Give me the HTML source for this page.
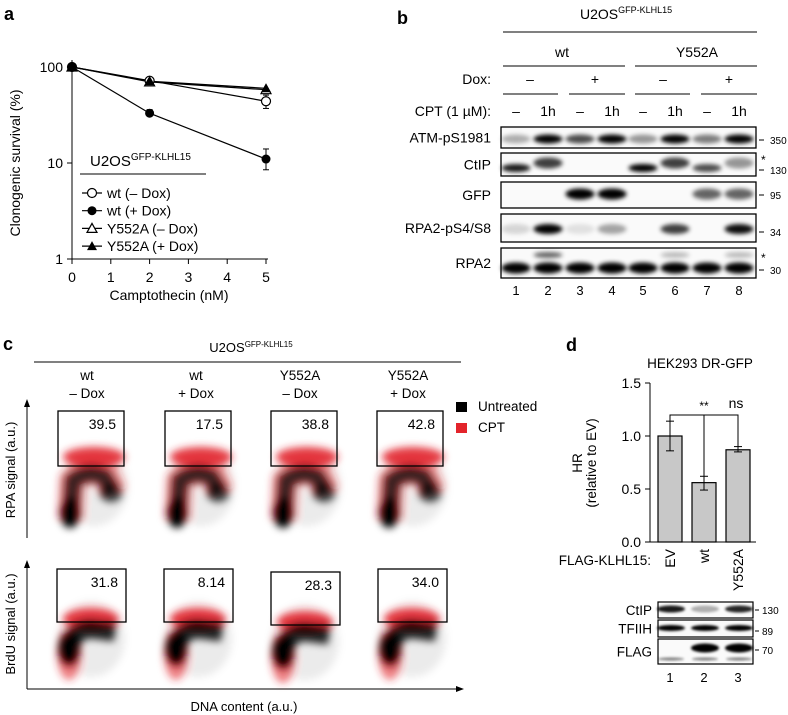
<!DOCTYPE html>
<html><head><meta charset="utf-8">
<style>
html,body{margin:0;padding:0;background:#fff;}
svg{display:block;font-family:"Liberation Sans",Arial,sans-serif;}
</style></head>
<body>
<svg id="fig" width="788" height="715" viewBox="0 0 788 715" xmlns="http://www.w3.org/2000/svg">
<defs>
<filter id="blur2" x="-50%" y="-50%" width="200%" height="200%"><feGaussianBlur stdDeviation="2"/></filter>
<filter id="blur3" x="-50%" y="-50%" width="200%" height="200%"><feGaussianBlur stdDeviation="4"/></filter>
<filter id="blur1" x="-50%" y="-50%" width="200%" height="200%"><feGaussianBlur stdDeviation="1.2"/></filter>
</defs>

<!-- Panel a -->
<g>
<text x="4" y="20" font-size="18" font-weight="bold">a</text>
<g id="a-plot"></g>
<text x="169" y="300" font-size="14" text-anchor="middle">Camptothecin (nM)</text>
<text transform="translate(20,163) rotate(-90)" font-size="14" text-anchor="middle">Clonogenic survival (%)</text>
<text x="90" y="166" font-size="15">U2OS<tspan font-size="10" dy="-6">GFP-KLHL15</tspan></text>
<line x1="80" y1="174" x2="206" y2="174" stroke="#000" stroke-width="1"/>
<g id="a-legend"></g>
</g>

<!-- Panel b -->
<g font-size="14">
<text x="397" y="24" font-size="18" font-weight="bold">b</text>
<text x="580" y="19" font-size="14">U2OS<tspan font-size="9" dy="-6">GFP-KLHL15</tspan></text>
<line x1="503" y1="32" x2="757" y2="32" stroke="#000"/>
<text x="562" y="57" text-anchor="middle">wt</text>
<text x="697" y="57" text-anchor="middle">Y552A</text>
<line x1="503" y1="66" x2="625" y2="66" stroke="#000"/><line x1="635" y1="66" x2="757" y2="66" stroke="#000"/>
<text x="491" y="84" text-anchor="end">Dox:</text>
<g id="b-dox"></g>
<text x="491" y="116" text-anchor="end">CPT (1 µM):</text>
<g id="b-cpt"></g>
<g id="b-blots"></g>
</g>

<!-- Panel c -->
<g>
<text x="3" y="350" font-size="18" font-weight="bold">c</text>
<text x="251" y="352" font-size="13" text-anchor="middle">U2OS<tspan font-size="8" dy="-5">GFP-KLHL15</tspan></text>
<line x1="34" y1="362" x2="461" y2="362" stroke="#000"/>
<g id="c-cols"></g>
<rect x="456" y="402" width="11" height="10" fill="#000"/>
<text x="478" y="411" font-size="13.5">Untreated</text>
<rect x="456" y="423" width="11" height="10" fill="#e3242b"/>
<text x="478" y="432" font-size="13.5">CPT</text>
<line x1="27" y1="538" x2="27" y2="405" stroke="#000"/><path d="M24,407 L27,399 L30,407Z"/>
<line x1="27" y1="689" x2="27" y2="566" stroke="#000"/><path d="M24,568 L27,560 L30,568Z"/>
<line x1="27" y1="689" x2="458" y2="689" stroke="#000"/><path d="M456,686 L464,689 L456,692Z"/>
<text transform="translate(15,470) rotate(-90)" font-size="13" text-anchor="middle">RPA signal (a.u.)</text>
<text transform="translate(15,624) rotate(-90)" font-size="13" text-anchor="middle">BrdU signal (a.u.)</text>
<text x="244" y="711" font-size="13" text-anchor="middle">DNA content (a.u.)</text>
<g id="c-plots"></g>
</g>

<!-- Panel d -->
<g>
<text x="566" y="351" font-size="18" font-weight="bold">d</text>
<text x="700" y="368" font-size="13.5" text-anchor="middle">HEK293 DR-GFP</text>
<text transform="translate(582,463) rotate(-90)" font-size="13.5" text-anchor="middle">HR</text>
<text transform="translate(596,463) rotate(-90)" font-size="13.5" text-anchor="middle">(relative to EV)</text>
<g id="d-plot"></g>
<text x="651" y="565" font-size="13.5" text-anchor="end">FLAG-KLHL15:</text>
<g id="d-blots"></g>
</g>
</svg>

<script>
const NS="http://www.w3.org/2000/svg";
function mk(tag,attrs,parent){const e=document.createElementNS(NS,tag);for(const k in attrs)e.setAttribute(k,attrs[k]);if(parent)parent.appendChild(e);return e;}

/* ---------- Panel a data ---------- */
const aDoses=[0,2,5];
const aWtMinus=[100,72,44];
const aWtPlus=[100,33,11];
const aYMinus=[100,70,58];
const aYPlus=[100,71,60];
const aWtMinusErrLo=[100,70,37];
const aWtMinusErrHi=[100,74,51];
const aWtPlusErrLo=[100,31,8.5];
const aWtPlusErrHi=[100,36,14];
const aXTicks=[0,1,2,3,4,5];
const aYTicks=[1,10,100];
const aNames=["wt (– Dox)","wt (+ Dox)","Y552A (– Dox)","Y552A (+ Dox)"];

const ax=v=>72+38.8*v;
const ay=v=>259-96*Math.log10(v);
const ga=document.getElementById('a-plot');
mk('line',{x1:72,y1:60,x2:72,y2:259,stroke:'#000'},ga);
mk('line',{x1:72,y1:259,x2:268,y2:259,stroke:'#000'},ga);
aXTicks.forEach(t=>{mk('line',{x1:ax(t),y1:259,x2:ax(t),y2:264,stroke:'#000'},ga);
 const tx=mk('text',{x:ax(t),y:282,'font-size':14,'text-anchor':'middle'},ga);tx.textContent=t;
 
 });
aYTicks.forEach(t=>{mk('line',{x1:67,y1:ay(t),x2:72,y2:ay(t),stroke:'#000'},ga);
 const tx=mk('text',{x:63,y:ay(t)+5,'font-size':14,'text-anchor':'end'},ga);tx.textContent=t;
 
 });
function marker(g,x,y,type){
 if(type===0)mk('circle',{cx:x,cy:y,r:4.5,fill:'#fff',stroke:'#000','stroke-width':1.2},g);
 if(type===1)mk('circle',{cx:x,cy:y,r:4.5,fill:'#000'},g);
 if(type===2)mk('path',{d:`M${x},${y-5}L${x+5},${y+4}L${x-5},${y+4}Z`,fill:'#fff',stroke:'#000','stroke-width':1.2},g);
 if(type===3)mk('path',{d:`M${x},${y-5}L${x+5},${y+4}L${x-5},${y+4}Z`,fill:'#000'},g);
}
const aSeries=[aWtMinus,aWtPlus,aYMinus,aYPlus];
aSeries.forEach((s,i)=>{
 const g=mk('g',{},ga);
 
 
 mk('polyline',{points:s.map((v,j)=>ax(aDoses[j])+','+ay(v)).join(' '),fill:'none',stroke:'#000','stroke-width':1.2},g);
});
[[aWtMinusErrLo,aWtMinusErrHi],[aWtPlusErrLo,aWtPlusErrHi]].forEach(([lo,hi])=>{
 lo.forEach((l,j)=>{if(l===hi[j])return;const x=ax(aDoses[j]);
  mk('line',{x1:x,y1:ay(l),x2:x,y2:ay(hi[j]),stroke:'#000'},ga);
  mk('line',{x1:x-3,y1:ay(l),x2:x+3,y2:ay(l),stroke:'#000'},ga);
  mk('line',{x1:x-3,y1:ay(hi[j]),x2:x+3,y2:ay(hi[j]),stroke:'#000'},ga);});
});
aSeries.forEach((s,i)=>s.forEach((v,j)=>marker(ga,ax(aDoses[j]),ay(v),i)));
const gl=document.getElementById('a-legend');
aNames.forEach((n,i)=>{const y=193+17.7*i;
 mk('line',{x1:82,y1:y,x2:102,y2:y,stroke:'#000','stroke-width':1.2},gl);marker(gl,92,y,i);
 const t=mk('text',{x:107,y:y+5,'font-size':14},gl);t.textContent=n;
 
 });

/* ---------- Panel b ---------- */
const bLaneX=[516,548,580,612,643,675,707,739];
const bDox=["–","+","–","+"];
const bDoxX=[530,595,663,729];
const bCpt=["–","1h","–","1h","–","1h","–","1h"];
const gd=document.getElementById('b-dox');
bDox.forEach((s,i)=>{const t=mk('text',{x:bDoxX[i],y:84,'text-anchor':'middle'},gd);t.textContent=s;
 
 });
[[503,558],[569,625],[635,690],[701,757]].forEach(([a,b])=>mk('line',{x1:a,y1:94,x2:b,y2:94,stroke:'#000'},gd));
const gc=document.getElementById('b-cpt');
bCpt.forEach((s,i)=>{const t=mk('text',{x:bLaneX[i],y:116,'text-anchor':'middle'},gc);t.textContent=s;
 
 });
const bBlots=[
 {name:'ATM-pS1981',y0:127,y1:148,bands:[[139,[0.3,1,0.7,1,0.4,1,0.5,1],4.5]],mw:[['350',140]]},
 {name:'CtIP',y0:153,y1:176,bands:[[168,[0.9,0,0,0,1,0,0.7,0],4]],mw:[['*',160],['130',170]]},
 {name:'GFP',y0:182,y1:208,bands:[[194,[0,0,1,1,0,0,0.6,0.6],5.5]],mw:[['95',195]]},
 {name:'RPA2-pS4/S8',y0:214,y1:242,bands:[[229,[0.15,1,0.1,0.35,0,0.75,0,0.95],5]],mw:[['34',232]]},
 {name:'RPA2',y0:248,y1:278,bands:[[268,[1,1,1,1,1,1,1,1],5.5]],mw:[['*',258],['30',270]]}
];
const bUpper=[
 [1,163,[0,0.75,0,0,0,0.75,0,0.4],5.5],
 [4,255,[0,0.6,0,0,0,0.25,0,0.25],3]
];
const gb=document.getElementById('b-blots');
bBlots.forEach((b,bi)=>{
 const g=mk('g',{},gb);
 
 
 const t=mk('text',{x:491,y:(b.y0+b.y1)/2+5,'text-anchor':'end'},g);t.textContent=b.name;
 mk('rect',{x:501,y:b.y0,width:255,height:b.y1-b.y0,fill:'#fafafa'},g);
 const bg=mk('g',{filter:'url(#blur2)'},g);
 const bands=b.bands.concat(bUpper.filter(u=>u[0]===bi).map(u=>[u[1],u[2],u[3]]));
 bands.forEach(([cy,vals,h])=>vals.forEach((v,i)=>{if(v>0)mk('ellipse',{cx:bLaneX[i],cy:cy,rx:14.5,ry:h,fill:'#000','fill-opacity':v},bg);}));
 mk('rect',{x:501,y:b.y0,width:255,height:b.y1-b.y0,fill:'none',stroke:'#000','stroke-width':1.3},g);
 b.mw.forEach(([l,y])=>{const tt=mk('text',{x:l==='*'?761:770,y:y+4,'font-size':l==='*'?12:10},g);tt.textContent=(l==='*'?'*':l);
  if(l!=='*')mk('line',{x1:759,y1:y,x2:764,y2:y,stroke:'#000'},g);});
});
bLaneX.forEach((x,i)=>{const t=mk('text',{x:x,y:295,'text-anchor':'middle','font-size':13},gb);t.textContent=i+1;
 
 });

/* ---------- Panel c ---------- */
const cColX=[87,196,300,408];
const cColTop=["wt","wt","Y552A","Y552A"];
const cColBot=["– Dox","+ Dox","– Dox","+ Dox"];
const cRpaPct=["39.5","17.5","38.8","42.8"];
const cBrduPct=["31.8","8.14","28.3","34.0"];
const cRpaGateX=[58,165,271,377];
const cBrduGateX=[57,164,271,378];
const gcc=document.getElementById('c-cols');
cColX.forEach((x,i)=>{
 const t1=mk('text',{x:x,y:380,'font-size':13.5,'text-anchor':'middle'},gcc);t1.textContent=cColTop[i];
 
 
 const t2=mk('text',{x:x,y:398,'font-size':13.5,'text-anchor':'middle'},gcc);t2.textContent=cColBot[i];
 
 });
const gp=document.getElementById('c-plots');
function flow(x0,y0,w,h,pct,top){
 const g=mk('g',{},gp);
 
 
 const red='#e3242b';
 const sp=mk('g',{filter:'url(#blur3)'},g);
 if(top){
  mk('ellipse',{cx:x0+36,cy:y0+75,rx:34,ry:40,fill:'#000','fill-opacity':0.08},sp);
  mk('path',{d:`M${x0+12},${y0+108} L${x0+14},${y0+70} Q${x0+30},${y0+54} ${x0+48},${y0+64} L${x0+56},${y0+82}`,fill:'none',stroke:red,'stroke-width':26,'stroke-opacity':0.45},sp);
  mk('ellipse',{cx:x0+36,cy:y0+46,rx:31,ry:10,fill:red,'fill-opacity':0.9},sp);
  mk('path',{d:`M${x0+12},${y0+108} L${x0+15},${y0+70} Q${x0+30},${y0+58} ${x0+46},${y0+66} L${x0+54},${y0+80}`,fill:'none',stroke:'#000','stroke-width':17,'stroke-opacity':0.75},sp);
  mk('ellipse',{cx:x0+12,cy:y0+102,rx:10,ry:15,fill:'#000'},sp);
  mk('ellipse',{cx:x0+53,cy:y0+82,rx:11,ry:9,fill:'#000','fill-opacity':0.75},sp);
 } else {
  mk('ellipse',{cx:x0+34,cy:y0+70,rx:34,ry:38,fill:'#000','fill-opacity':0.08},sp);
  mk('ellipse',{cx:x0+12,cy:y0+85,rx:12,ry:26,fill:red,'fill-opacity':0.6},sp);
  mk('ellipse',{cx:x0+34,cy:y0+50,rx:28,ry:11,fill:red,'fill-opacity':0.9},sp);
  mk('path',{d:`M${x0+12},${y0+90} Q${x0+12},${y0+60} ${x0+34},${y0+60} L${x0+58},${y0+63}`,fill:'none',stroke:'#000','stroke-width':19,'stroke-opacity':0.85},sp);
  mk('ellipse',{cx:x0+12,cy:y0+80,rx:11,ry:17,fill:'#000'},sp);
 }
 mk('rect',{x:x0,y:y0,width:w,height:h,fill:'none',stroke:'#000','stroke-width':1.3},g);
 const t=mk('text',{x:x0+w-8,y:y0+18,'font-size':14,'text-anchor':'end'},g);t.textContent=pct;
 
 
}
cRpaGateX.forEach((x,i)=>flow(x,411,66,55,cRpaPct[i],true));
cBrduGateX.forEach((x,i)=>flow(x,i===2?572:569,69,53,cBrduPct[i],false));

/* ---------- Panel d ---------- */
const dCats=["EV","wt","Y552A"];
const dVals=[1.0,0.56,0.87];
const dErrLo=[0.86,0.49,0.85];
const dErrHi=[1.14,0.62,0.90];
const dYTicks=["0.0","0.5","1.0","1.5"];
const dX=i=>670+34*i;
const dY=v=>542-106*v;
const gdp=document.getElementById('d-plot');
mk('line',{x1:650,y1:dY(1.5),x2:650,y2:542,stroke:'#000'},gdp);
mk('line',{x1:650,y1:542,x2:756,y2:542,stroke:'#000'},gdp);
dYTicks.forEach(t=>{const v=parseFloat(t);mk('line',{x1:645,y1:dY(v),x2:650,y2:dY(v),stroke:'#000'},gdp);
 const tx=mk('text',{x:641,y:dY(v)+5,'font-size':14,'text-anchor':'end'},gdp);tx.textContent=t;
 
 });
dCats.forEach((c,i)=>{
 const r=mk('rect',{x:dX(i)-12,y:dY(dVals[i]),width:24,height:542-dY(dVals[i]),fill:'#c8c8c8',stroke:'#000','stroke-width':1.2},gdp);
 
 
 const x=dX(i);
 mk('line',{x1:x,y1:dY(dErrLo[i]),x2:x,y2:dY(dErrHi[i]),stroke:'#000'},gdp);
 mk('line',{x1:x-4,y1:dY(dErrLo[i]),x2:x+4,y2:dY(dErrLo[i]),stroke:'#000'},gdp);
 mk('line',{x1:x-4,y1:dY(dErrHi[i]),x2:x+4,y2:dY(dErrHi[i]),stroke:'#000'},gdp);
 const t=mk('text',{transform:`translate(${x+5},549) rotate(-90)`,'font-size':14,'text-anchor':'end'},gdp);t.textContent=c;
 
 
});
const bry=415;
mk('path',{d:`M${dX(0)},${dY(dErrHi[0])} L${dX(0)},${bry} L${dX(2)},${bry} L${dX(2)},${dY(dErrHi[2])}`,fill:'none',stroke:'#000'},gdp);
mk('line',{x1:dX(1),y1:bry,x2:dX(1),y2:dY(dErrHi[1]),stroke:'#000'},gdp);
let s1=mk('text',{x:dX(1),y:410,'font-size':12,'text-anchor':'middle'},gdp);s1.textContent='**';


let s2=mk('text',{x:dX(2)-2,y:408,'font-size':14,'text-anchor':'middle'},gdp);s2.textContent='ns';



const dBlots=[
 {name:'CtIP',y0:602,y1:618,cy:609,vals:[0.9,0.3,0.85],h:3.5,mw:'130',mwy:610},
 {name:'TFIIH',y0:620,y1:637,cy:628,vals:[1,1,1],h:3,mw:'89',mwy:631},
 {name:'FLAG',y0:639,y1:664,cy:648,vals:[0,1,1],h:4.5,mw:'70',mwy:650}
];
const gdb=document.getElementById('d-blots');
dBlots.forEach(b=>{
 const g=mk('g',{},gdb);
 
 
 const t=mk('text',{x:652,y:(b.y0+b.y1)/2+5,'font-size':13.5,'text-anchor':'end'},g);t.textContent=b.name;
 mk('rect',{x:658,y:b.y0,width:95,height:b.y1-b.y0,fill:'#fafafa'},g);
 const bg=mk('g',{filter:'url(#blur1)'},g);
 b.vals.forEach((v,i)=>{if(v>0)mk('ellipse',{cx:dX(i)+1,cy:b.cy,rx:14,ry:b.h,fill:'#000','fill-opacity':v},bg);});
 if(b.name==='FLAG')[0,1,2].forEach(i=>mk('ellipse',{cx:dX(i)+1,cy:659,rx:13,ry:1.5,fill:'#000','fill-opacity':0.5},bg));
 mk('rect',{x:658,y:b.y0,width:95,height:b.y1-b.y0,fill:'none',stroke:'#000','stroke-width':1.2},g);
 mk('line',{x1:755,y1:b.mwy,x2:759,y2:b.mwy,stroke:'#000'},g);
 const m=mk('text',{x:762,y:b.mwy+4,'font-size':10},g);m.textContent=b.mw;
});
dCats.forEach((c,i)=>{const t=mk('text',{x:dX(i),y:682,'font-size':13,'text-anchor':'middle'},gdb);t.textContent=i+1;
 
 });
</script>
</body></html>
